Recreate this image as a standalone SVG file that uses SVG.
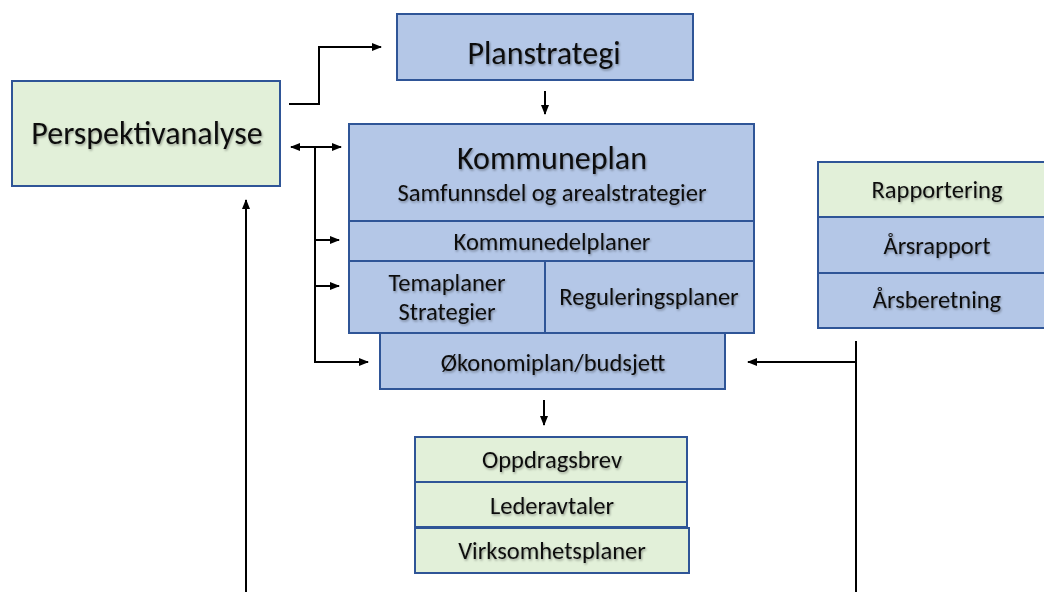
<svg xmlns="http://www.w3.org/2000/svg" width="1044" height="592" viewBox="0 0 1044 592">
<style>
  .blue { fill: #B4C7E7; stroke: #2F5597; stroke-width: 2; }
  .green { fill: #E2F0D9; stroke: #2F5597; stroke-width: 2; }
  text { font-family: Carlito, "Liberation Sans", Arial, sans-serif; fill: #111; text-anchor: middle; filter: url(#shadow); }
  .big { font-size: 32px; }
  .mid { font-size: 24.5px; }
  .conn { fill: none; stroke: #000; stroke-width: 2; }
</style>
<defs>
  <marker id="arrow" viewBox="0 0 10 8" refX="9" refY="4" markerWidth="10" markerHeight="8" markerUnits="userSpaceOnUse" orient="auto-start-reverse">
    <path d="M0,0 L10,4 L0,8 z" fill="#000"/>
  </marker>
  <filter id="shadow" x="-10%" y="-30%" width="120%" height="160%">
    <feDropShadow dx="1" dy="1.5" stdDeviation="0.8" flood-color="#000" flood-opacity="0.35"/>
  </filter>
</defs>
<rect width="1044" height="592" fill="#fff"/>

<g id="connectors">
  <polyline class="conn" points="289,104 319,104 319,47 381,47" marker-end="url(#arrow)"/>
  <line class="conn" x1="545" y1="91" x2="545" y2="114" marker-end="url(#arrow)"/>
  <line class="conn" x1="291" y1="147" x2="341" y2="147" marker-start="url(#arrow)" marker-end="url(#arrow)"/>
  <polyline class="conn" points="315,147 315,362 368,362" marker-end="url(#arrow)"/>
  <line class="conn" x1="315" y1="240" x2="339" y2="240" marker-end="url(#arrow)"/>
  <line class="conn" x1="315" y1="286" x2="339" y2="286" marker-end="url(#arrow)"/>
  <line class="conn" x1="544" y1="400" x2="544" y2="425" marker-end="url(#arrow)"/>
  <line class="conn" x1="246" y1="592" x2="246" y2="200" marker-end="url(#arrow)"/>
  <line class="conn" x1="856" y1="341" x2="856" y2="592"/>
  <line class="conn" x1="856" y1="362" x2="748" y2="362" marker-end="url(#arrow)"/>
</g>

<g id="perspektivanalyse">
  <rect class="green" x="12" y="81" width="268" height="105"/>
  <text class="big" x="147" y="144">Perspektivanalyse</text>
</g>

<g id="planstrategi">
  <rect class="blue" x="397" y="14" width="296" height="66"/>
  <text class="big" x="544" y="64">Planstrategi</text>
</g>

<g id="kommuneplan">
  <rect class="blue" x="349" y="124" width="405" height="97"/>
  <text class="big" x="552" y="169">Kommuneplan</text>
  <text class="mid" x="552" y="201">Samfunnsdel og arealstrategier</text>
</g>

<g id="kommunedelplaner">
  <rect class="blue" x="349" y="221" width="405" height="40"/>
  <text class="mid" x="552" y="250">Kommunedelplaner</text>
</g>

<g id="temaplaner">
  <rect class="blue" x="349" y="261" width="196" height="72"/>
  <text class="mid" x="447" y="291">Temaplaner</text>
  <text class="mid" x="447" y="320">Strategier</text>
</g>

<g id="reguleringsplaner">
  <rect class="blue" x="545" y="261" width="209" height="72"/>
  <text class="mid" x="649" y="305">Reguleringsplaner</text>
</g>

<g id="okonomiplan">
  <rect class="blue" x="380" y="333" width="345" height="56"/>
  <text class="mid" x="553" y="371">Økonomiplan/budsjett</text>
</g>

<g id="rapportering">
  <rect class="green" x="818" y="162" width="240" height="55"/>
  <text class="mid" x="937" y="198">Rapportering</text>
</g>

<g id="arsrapport">
  <rect class="blue" x="818" y="217" width="240" height="56"/>
  <text class="mid" x="937" y="254">Årsrapport</text>
</g>

<g id="arsberetning">
  <rect class="blue" x="818" y="273" width="240" height="55"/>
  <text class="mid" x="937" y="308">Årsberetning</text>
</g>

<g id="oppdragsbrev">
  <rect class="green" x="415" y="437" width="272" height="45"/>
  <text class="mid" x="552" y="468">Oppdragsbrev</text>
</g>

<g id="lederavtaler">
  <rect class="green" x="415" y="482" width="272" height="45"/>
  <text class="mid" x="552" y="514">Lederavtaler</text>
</g>

<g id="virksomhetsplaner">
  <rect class="green" x="415" y="528" width="274" height="45"/>
  <text class="mid" x="552" y="559">Virksomhetsplaner</text>
</g>
</svg>
